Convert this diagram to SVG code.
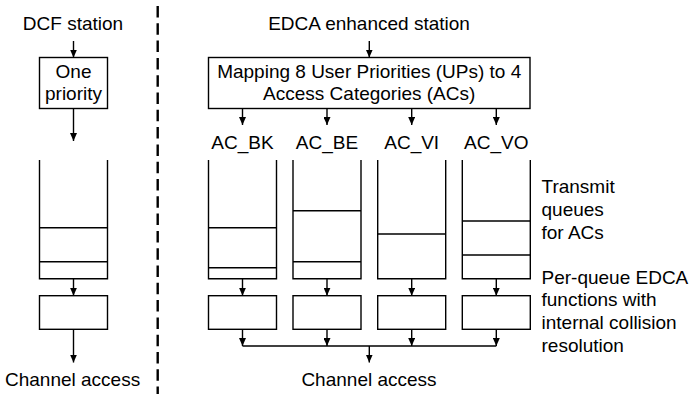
<svg xmlns="http://www.w3.org/2000/svg" width="689" height="394" viewBox="0 0 689 394">
  <style>
    text { font-family: "Liberation Sans", Arial, sans-serif; font-size: 19px; fill: #000; }
    .mid { text-anchor: middle; }
    .box { fill: #fff; stroke: #000; stroke-width: 1.4; }
    .ln { fill: none; stroke: #000; stroke-width: 1.4; }
    .arr { fill: none; stroke: #000; stroke-width: 1.4; marker-end: url(#head); }
    .sep { fill: none; stroke: #000; stroke-width: 2.4; stroke-dasharray: 11.5 5.8; }
  </style>
  <defs>
    <marker id="head" markerUnits="userSpaceOnUse" viewBox="0 0 8 7" markerWidth="8" markerHeight="7" refX="8" refY="3.5" orient="auto">
      <path d="M0,0 L8,3.5 L0,7 z" fill="#000"/>
    </marker>
  </defs>
  <rect width="689" height="394" fill="#fff"/>

  <!-- station divider -->
  <line class="sep" x1="157.7" y1="6" x2="157.7" y2="394"/>

  <!-- DCF station -->
  <g id="dcf-title"><text class="mid" x="73" y="30">DCF station</text></g>
  <g id="dcf-priority">
    <rect class="box" x="39.5" y="57.5" width="68" height="51"/>
    <text class="mid" x="73.5" y="78">One</text>
    <text class="mid" x="73.5" y="99.5">priority</text>
  </g>
  <g id="dcf-queue">
    <path class="ln" d="M39.5,160 V278.7 H107.5 V160"/>
    <line class="ln" x1="39.5" y1="227.7" x2="107.5" y2="227.7"/>
    <line class="ln" x1="39.5" y1="261.7" x2="107.5" y2="261.7"/>
  </g>
  <g id="dcf-function"><rect class="box" x="39.5" y="295.7" width="68" height="33.6"/></g>
  <g id="dcf-channel"><text x="5" y="386">Channel access</text></g>

  <!-- EDCA enhanced station -->
  <g id="edca-title"><text class="mid" x="369" y="30">EDCA enhanced station</text></g>
  <g id="edca-mapping">
    <rect class="box" x="208.5" y="57.5" width="321.5" height="51"/>
    <text class="mid" x="369.2" y="78">Mapping 8 User Priorities (UPs) to 4</text>
    <text class="mid" x="369.2" y="100">Access Categories (ACs)</text>
  </g>

  <g id="label-ac-bk"><text class="mid" x="242.5" y="149">AC_BK</text></g>
  <g id="label-ac-be"><text class="mid" x="327" y="149">AC_BE</text></g>
  <g id="label-ac-vi"><text class="mid" x="411.7" y="149">AC_VI</text></g>
  <g id="label-ac-vo"><text class="mid" x="496.3" y="149">AC_VO</text></g>

  <g id="queue-ac-bk">
    <path class="ln" d="M208.5,160 V278.7 H276.5 V160"/>
    <line class="ln" x1="208.5" y1="227.7" x2="276.5" y2="227.7"/>
    <line class="ln" x1="208.5" y1="267.7" x2="276.5" y2="267.7"/>
  </g>
  <g id="queue-ac-be">
    <path class="ln" d="M293,160 V278.7 H361 V160"/>
    <line class="ln" x1="293" y1="210.7" x2="361" y2="210.7"/>
    <line class="ln" x1="293" y1="261.7" x2="361" y2="261.7"/>
  </g>
  <g id="queue-ac-vi">
    <path class="ln" d="M377.7,160 V278.7 H445.7 V160"/>
    <line class="ln" x1="377.7" y1="234" x2="445.7" y2="234"/>
  </g>
  <g id="queue-ac-vo">
    <path class="ln" d="M462.3,160 V278.7 H530.3 V160"/>
    <line class="ln" x1="462.3" y1="221" x2="530.3" y2="221"/>
    <line class="ln" x1="462.3" y1="255" x2="530.3" y2="255"/>
  </g>

  <g id="edca-fn-bk"><rect class="box" x="208.5" y="295.7" width="68" height="33.6"/></g>
  <g id="edca-fn-be"><rect class="box" x="293" y="295.7" width="68" height="33.6"/></g>
  <g id="edca-fn-vi"><rect class="box" x="377.7" y="295.7" width="68" height="33.6"/></g>
  <g id="edca-fn-vo"><rect class="box" x="462.3" y="295.7" width="68" height="33.6"/></g>

  <g id="edca-channel"><text class="mid" x="369" y="386">Channel access</text></g>

  <g id="note-queues">
    <text x="541.5" y="193">Transmit</text>
    <text x="541.5" y="215.5">queues</text>
    <text x="541.5" y="239">for ACs</text>
  </g>
  <g id="note-functions">
    <text x="541.5" y="283.5">Per-queue EDCA</text>
    <text x="541.5" y="306">functions with</text>
    <text x="541.5" y="329">internal collision</text>
    <text x="541.5" y="351.5">resolution</text>
  </g>

  <!-- connectors -->
  <g id="connectors">
    <line class="arr" x1="73.5" y1="41" x2="73.5" y2="57.5"/>
    <line class="arr" x1="73.5" y1="108.5" x2="73.5" y2="141"/>
    <line class="arr" x1="73.5" y1="278.7" x2="73.5" y2="295.7"/>
    <line class="arr" x1="73.5" y1="329.3" x2="73.5" y2="362.5"/>

    <line class="arr" x1="369.3" y1="41" x2="369.3" y2="57.5"/>
    <line class="arr" x1="242.5" y1="108.5" x2="242.5" y2="125"/>
    <line class="arr" x1="327" y1="108.5" x2="327" y2="125"/>
    <line class="arr" x1="411.7" y1="108.5" x2="411.7" y2="125"/>
    <line class="arr" x1="496.3" y1="108.5" x2="496.3" y2="125"/>

    <line class="arr" x1="242.5" y1="278.7" x2="242.5" y2="295.7"/>
    <line class="arr" x1="327" y1="278.7" x2="327" y2="295.7"/>
    <line class="arr" x1="411.7" y1="278.7" x2="411.7" y2="295.7"/>
    <line class="arr" x1="496.3" y1="278.7" x2="496.3" y2="295.7"/>

    <line class="arr" x1="242.5" y1="329.3" x2="242.5" y2="346"/>
    <line class="arr" x1="327" y1="329.3" x2="327" y2="346"/>
    <line class="arr" x1="411.7" y1="329.3" x2="411.7" y2="346"/>
    <line class="arr" x1="496.3" y1="329.3" x2="496.3" y2="346"/>
    <line class="ln" x1="242.5" y1="346" x2="496.3" y2="346"/>
    <line class="arr" x1="369.3" y1="346" x2="369.3" y2="362.5"/>
  </g>
</svg>
